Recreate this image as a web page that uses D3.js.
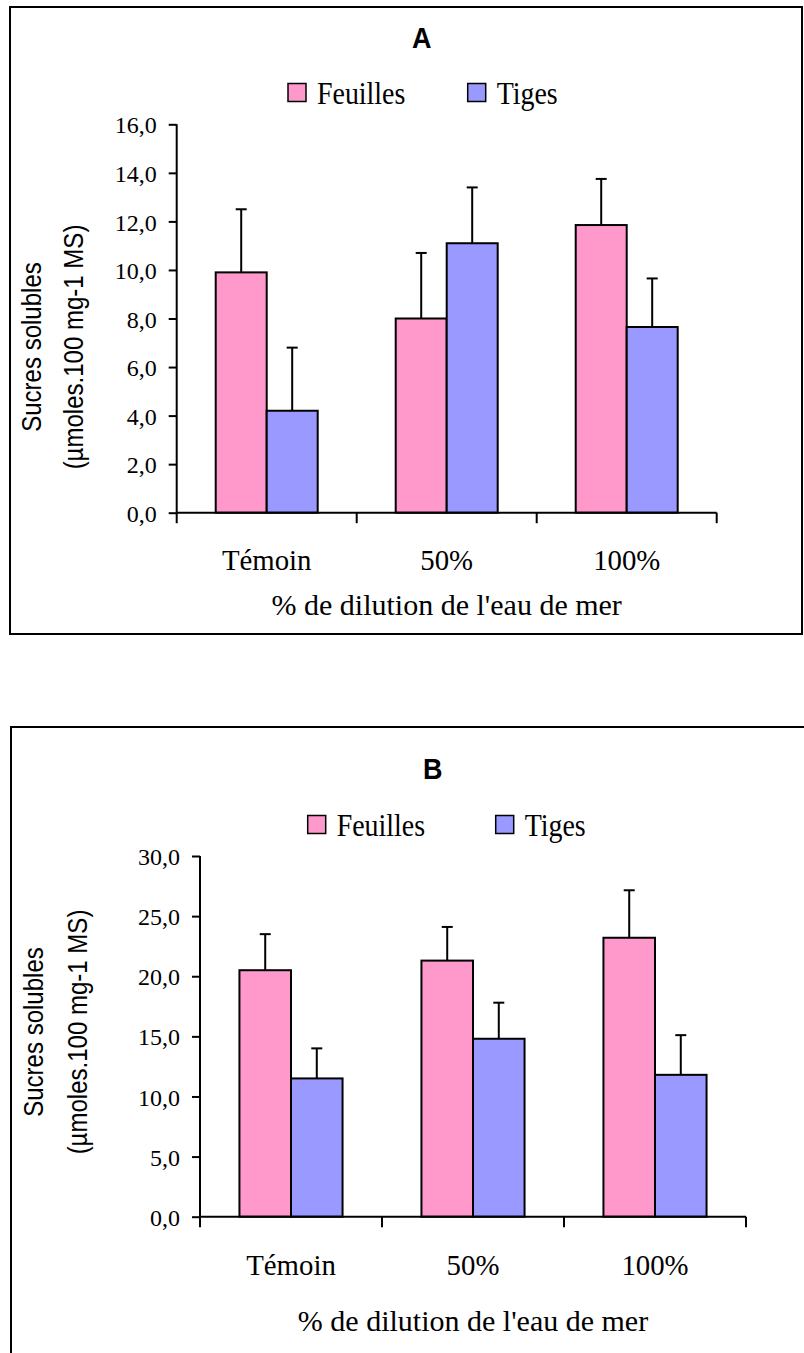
<!DOCTYPE html>
<html>
<head>
<meta charset="utf-8">
<script src="https://cdn.jsdelivr.net/npm/d3@7"></script>
<style>
  body { margin: 0; background: #fff; }
  svg { display: block; }
  .serif { font-family: "Liberation Serif", "Times New Roman", serif; }
  .sans { font-family: "Liberation Sans", Arial, sans-serif; }
</style>
</head>
<body>
<script>
// Data
var categories = ["Témoin", "50%", "100%"];
var seriesNames = ["Feuilles", "Tiges"];
var seriesColors = ["#FF99CC", "#9999FF"];

var feuillesA = [9.9, 8.0, 11.85];
var feuillesAErr = [2.6, 2.7, 1.9];
var tigesA = [4.2, 11.1, 7.65];
var tigesAErr = [2.6, 2.3, 2.0];
var yTicksA = [0, 2, 4, 6, 8, 10, 12, 14, 16];

var feuillesB = [20.5, 21.3, 23.2];
var feuillesBErr = [3.0, 2.8, 3.95];
var tigesB = [11.5, 14.8, 11.8];
var tigesBErr = [2.5, 3.0, 3.3];
var yTicksB = [0, 5, 10, 15, 20, 25, 30];

var yLabel1 = "Sucres solubles";
var yLabel2 = "(µmoles.100 mg-1 MS)";
var xTitle = "% de dilution de l'eau de mer";

var svg = d3.select("body").append("svg")
    .attr("width", 804)
    .attr("height", 1353);

// text helper: condensed text (sx) with optional rotation
function addText(g, str, x, y, o) {
    var t = g.append("text")
        .attr("class", o.cls)
        .attr("transform", "translate(" + x + "," + y + ") rotate(" + (o.rot || 0) + ") scale(" + (o.sx || 1) + ",1)")
        .style("font-size", o.size + "px")
        .style("font-weight", o.weight || "normal")
        .attr("text-anchor", o.anchor || "start")
        .attr("fill", "#000")
        .text(str);
    if (o.baseline) t.attr("dominant-baseline", o.baseline);
    return t;
}

function fmt(v) { return d3.format(".1f")(v).replace(".", ","); }

function drawPanel(p) {
    var g = svg.append("g");

    // frame
    g.append("rect")
        .attr("x", p.frame[0]).attr("y", p.frame[1])
        .attr("width", p.frame[2]).attr("height", p.frame[3])
        .attr("fill", "none").attr("stroke", "#000").attr("stroke-width", 2);

    // title
    addText(g, p.title, p.titleX, p.titleY, {cls: "sans", size: 29, weight: "bold", anchor: "middle", sx: 0.93});

    // legend
    seriesNames.forEach(function(name, i) {
        g.append("rect")
            .attr("x", p.legendX[i]).attr("y", p.legendY)
            .attr("width", 18).attr("height", 18)
            .attr("fill", seriesColors[i]).attr("stroke", "#000").attr("stroke-width", 1.5);
        addText(g, name, p.legendX[i] + 29, p.legendY + 20, {cls: "serif", size: 31, sx: 0.9});
    });

    var x = d3.scaleBand().domain(categories).range([p.left, p.right]).padding(0);
    var xs = d3.scaleBand().domain(seriesNames).range([0, x.bandwidth()])
        .paddingInner(0).paddingOuter(0.765);
    var y = d3.scaleLinear().domain([0, p.yMax]).range([p.bottom, p.top]);

    var rows = [];
    categories.forEach(function(c, i) {
        rows.push({cat: c, s: seriesNames[0], v: p.vals[0][i], e: p.errs[0][i], col: seriesColors[0]});
        rows.push({cat: c, s: seriesNames[1], v: p.vals[1][i], e: p.errs[1][i], col: seriesColors[1]});
    });

    // bars
    g.selectAll(".bar").data(rows).enter().append("rect")
        .attr("x", function(d) { return x(d.cat) + xs(d.s); })
        .attr("y", function(d) { return y(d.v); })
        .attr("width", xs.bandwidth())
        .attr("height", function(d) { return y(0) - y(d.v); })
        .attr("fill", function(d) { return d.col; })
        .attr("stroke", "#000").attr("stroke-width", 2);

    // error bars (upper only)
    rows.forEach(function(d) {
        var cx = x(d.cat) + xs(d.s) + xs.bandwidth() / 2;
        g.append("line")
            .attr("x1", cx).attr("x2", cx)
            .attr("y1", y(d.v)).attr("y2", y(d.v + d.e))
            .attr("stroke", "#000").attr("stroke-width", 2);
        g.append("line")
            .attr("x1", cx - 5.5).attr("x2", cx + 5.5)
            .attr("y1", y(d.v + d.e)).attr("y2", y(d.v + d.e))
            .attr("stroke", "#000").attr("stroke-width", 2);
    });

    // y axis
    var yAxis = d3.axisLeft(y).tickValues(p.ticks).tickFormat(fmt).tickSize(8).tickPadding(12);
    var ya = g.append("g").attr("transform", "translate(" + p.left + ",0)").call(yAxis)
        .attr("font-family", null).attr("font-size", null);
    ya.select(".domain").attr("stroke-width", 2).attr("d", "M0," + y(0) + "V" + y(p.yMax));
    ya.selectAll(".tick line").attr("stroke-width", 2);
    ya.selectAll(".tick text")
        .attr("class", "serif").style("font-size", "24px").attr("fill", "#000")
        .attr("dy", "0.36em");

    // x axis: line with ticks at category boundaries
    g.append("line")
        .attr("x1", p.left).attr("x2", p.right)
        .attr("y1", y(0)).attr("y2", y(0))
        .attr("stroke", "#000").attr("stroke-width", 2);
    var bounds = categories.map(function(c) { return x(c); }).concat([p.right]);
    g.selectAll(".xt").data(bounds).enter().append("line")
        .attr("x1", function(d) { return d; }).attr("x2", function(d) { return d; })
        .attr("y1", y(0)).attr("y2", y(0) + 10.5)
        .attr("stroke", "#000").attr("stroke-width", 2);

    categories.forEach(function(c) {
        addText(g, c, x(c) + x.bandwidth() / 2, p.catY, {cls: "serif", size: 30, anchor: "middle", sx: 0.96});
    });

    addText(g, xTitle, (p.left + p.right) / 2, p.titleXY, {cls: "serif", size: 30, anchor: "middle", sx: 1.0});

    // y label (two lines, rotated)
    addText(g, yLabel1, p.yLabX[0], p.yLabCY, {cls: "sans", size: 27, anchor: "middle", rot: -90, sx: 0.89, baseline: "central"});
    addText(g, yLabel2, p.yLabX[1], p.yLabCY, {cls: "sans", size: 27, anchor: "middle", rot: -90, sx: 0.89, baseline: "central"});
}

drawPanel({
    frame: [10, 7, 792, 627],
    title: "A", titleX: 421.7, titleY: 47.7,
    legendX: [288, 467.7], legendY: 83.5,
    left: 176.7, right: 716.7, bottom: 512.7, top: 124.3, yMax: 16, ticks: yTicksA,
    vals: [feuillesA, tigesA], errs: [feuillesAErr, tigesAErr],
    catY: 570, titleXY: 615,
    yLabX: [31, 73], yLabCY: 347
});

drawPanel({
    frame: [11, 727, 800, 700],
    title: "B", titleX: 432.7, titleY: 779.3,
    legendX: [307.7, 495.7], legendY: 815.5,
    left: 200, right: 746, bottom: 1216.7, top: 856, yMax: 30, ticks: yTicksB,
    vals: [feuillesB, tigesB], errs: [feuillesBErr, tigesBErr],
    catY: 1275, titleXY: 1331,
    yLabX: [33, 77], yLabCY: 1032
});
</script>
</body>
</html>
